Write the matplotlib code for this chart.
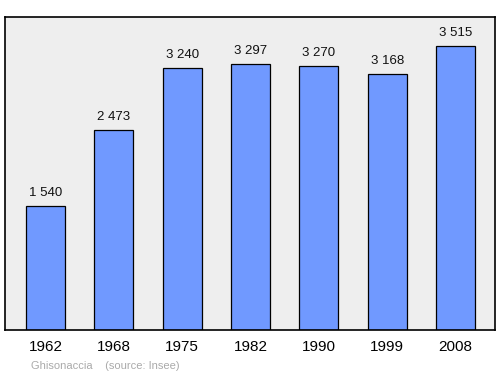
import numpy as np
import matplotlib.pyplot as plt

years = ["1962", "1968", "1975", "1982", "1990", "1999", "2008"]
population = [1540, 2473, 3240, 3297, 3270, 3168, 3515]
labels = ["1 540", "2 473", "3 240", "3 297", "3 270", "3 168", "3 515"]

plt.rcParams['font.family'] = ['Liberation Sans', 'DejaVu Sans']

fig = plt.figure(figsize=(5, 3.74), dpi=100)
ax = fig.add_axes([0.01, 0.1176, 0.98, 0.8369])
ax.set_facecolor("#eeeeee")

x = np.arange(len(years))
ax.bar(x, population, width=0.57, color="#7099ff", edgecolor="black", linewidth=0.9, zorder=2)
for xi, v, lab in zip(x, population, labels):
    ax.annotate(lab, (xi, v), xytext=(0, 5), textcoords="offset points",
                ha="center", va="bottom", fontsize=9.5, color="#111111")

ax.set_xlim(-0.593, 6.578)
ax.set_ylim(0, 3874)
ax.set_xticks(x)
ax.set_xticklabels(years, fontsize=11)
ax.tick_params(axis="x", length=0, pad=7.5)
ax.set_yticks([])
for s in ax.spines.values():
    s.set_linewidth(1.2)

fig.text(0.062, 0.014, "Ghisonaccia    (source: Insee)", fontsize=8, color="#aaaaaa")

plt.savefig("out.png", dpi=100)
